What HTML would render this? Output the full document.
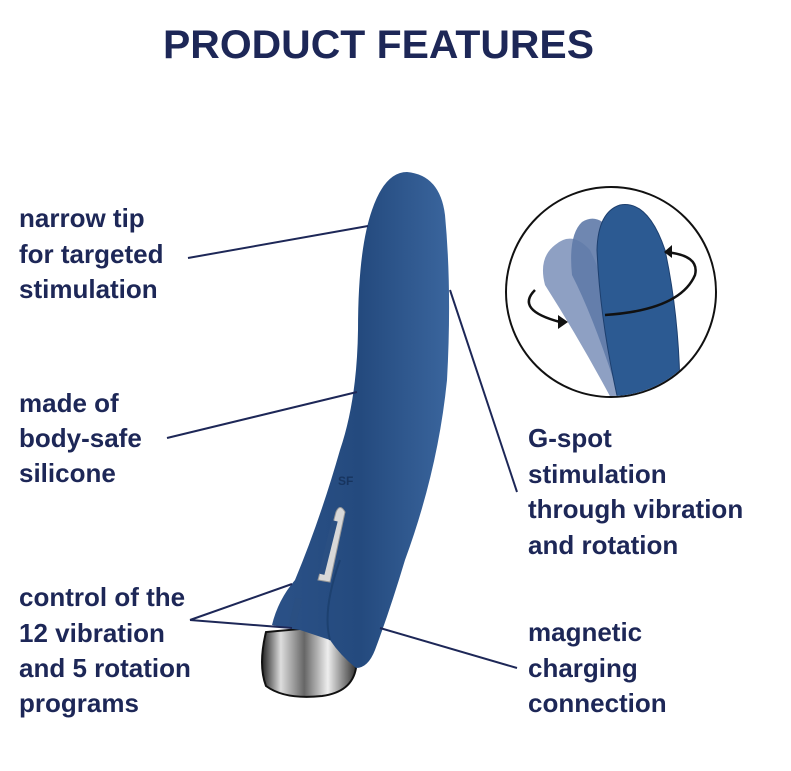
<!DOCTYPE html>
<html><head><meta charset="utf-8"><style>
html,body{margin:0;padding:0;background:#fff;}
svg{display:block;}
text{font-family:"Liberation Sans",sans-serif;fill:#1d2757;font-weight:bold;}
</style></head><body>
<svg width="791" height="771" viewBox="0 0 791 771" xmlns="http://www.w3.org/2000/svg">
<defs>
<linearGradient id="body" x1="0" y1="0" x2="1" y2="0">
<stop offset="0" stop-color="#2b5187"/><stop offset="0.5" stop-color="#244a7e"/><stop offset="1" stop-color="#3a659d"/>
</linearGradient>
<linearGradient id="chrome" x1="0" y1="0" x2="1" y2="0">
<stop offset="0" stop-color="#222"/><stop offset="0.2" stop-color="#ddd"/><stop offset="0.45" stop-color="#666"/><stop offset="0.7" stop-color="#eee"/><stop offset="1" stop-color="#333"/>
</linearGradient>
</defs>
<text x="163" y="58" font-size="40" textLength="431" lengthAdjust="spacingAndGlyphs" style="font-weight:900">PRODUCT FEATURES</text>

<g font-size="26">
<text x="19" y="227">narrow tip</text>
<text x="19" y="263">for targeted</text>
<text x="19" y="298">stimulation</text>
<text x="19" y="412">made of</text>
<text x="19" y="447">body-safe</text>
<text x="19" y="482">silicone</text>
<text x="19" y="606">control of the</text>
<text x="19" y="642">12 vibration</text>
<text x="19" y="677">and 5 rotation</text>
<text x="19" y="712">programs</text>
<text x="528" y="447">G-spot</text>
<text x="528" y="483">stimulation</text>
<text x="528" y="518">through vibration</text>
<text x="528" y="554">and rotation</text>
<text x="528" y="641">magnetic</text>
<text x="528" y="677">charging</text>
<text x="528" y="712">connection</text>
</g>

<path d="M266 632 Q258 665 266 686 Q285 700 322 696 Q352 692 356 668 L345 625 Z" fill="url(#chrome)" stroke="#111" stroke-width="2"/>
<path d="M407 172 Q440 175 445 215 Q452 290 447 380 Q438 470 405 560 Q390 610 375 650 Q368 668 356 668 Q340 655 330 640 L300 630 Q285 628 272 625 Q278 600 295 580 Q320 520 340 450 Q357 400 358 330 Q358 250 372 210 Q385 172 407 172 Z" fill="url(#body)"/>
<path d="M330 640 Q322 610 340 560" stroke="#1d4170" stroke-width="2" fill="none"/>
<path d="M318 580 L336 512 Q340 503 345 512 L330 582 Z" fill="#d8d8d8" stroke="#999"/>
<rect x="325" y="520" width="6" height="55" fill="#2a4f82" transform="rotate(14 328 548)"/>
<rect x="292" y="598" width="7" height="28" fill="#2a4f82" transform="rotate(14 296 612)"/>
<text x="338" y="485" font-size="12" style="fill:#17345e">SF</text>

<g stroke="#1d2757" stroke-width="2" fill="none">
<line x1="188" y1="258" x2="368" y2="226"/>
<line x1="167" y1="438" x2="357" y2="392"/>
<line x1="450" y1="290" x2="517" y2="492"/>
<line x1="380" y1="628" x2="517" y2="668"/>
<line x1="190" y1="620" x2="292" y2="584"/>
<line x1="190" y1="620" x2="292" y2="628"/>
</g>

<circle cx="611" cy="292" r="105" fill="#fff" stroke="#111" stroke-width="2"/>
<clipPath id="cc"><circle cx="611" cy="292" r="104"/></clipPath>
<g clip-path="url(#cc)">
<path d="M555 245 Q572 230 590 250 Q615 300 622 400 L612 400 Q580 340 545 285 Q538 258 555 245 Z" fill="#7a8fb8" opacity="0.85"/>
<path d="M582 222 Q598 212 612 232 Q632 300 632 400 L620 400 Q595 320 572 275 Q568 235 582 222 Z" fill="#5f7aa8" opacity="0.9"/>
<path d="M620 205 Q648 200 665 250 Q680 320 680 400 L618 400 Q600 320 597 250 Q598 212 620 205 Z" fill="#2c5a92" stroke="#1d3f6e" stroke-width="1"/>
</g>
<g stroke="#111" stroke-width="2.5" fill="none">
<path d="M605 315 Q680 310 695 275 Q700 255 665 252"/>
<path d="M535 290 Q515 310 560 322"/>
</g>
<path d="M664 246 L672 252 L664 259 Z" fill="#111" transform="rotate(180 668 252)"/>
<path d="M558 315 L568 322 L558 329 Z" fill="#111"/>
</svg>
</body></html>
